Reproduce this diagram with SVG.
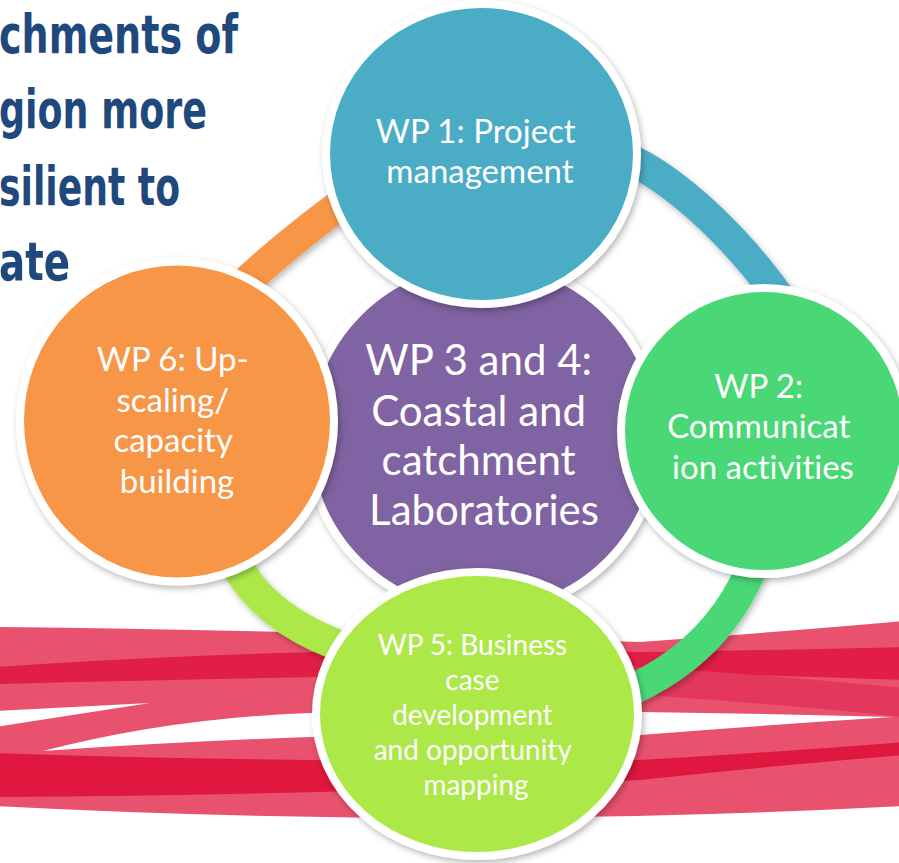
<svg xmlns="http://www.w3.org/2000/svg" width="899" height="863" viewBox="0 0 899 863">
  <defs>
    <filter id="shadow" x="-20%" y="-20%" width="140%" height="140%">
      <feDropShadow dx="2" dy="3" stdDeviation="3" flood-color="#000" flood-opacity="0.28"/>
    </filter>
    <style>
      .title { font-family: "DejaVu Sans Condensed", "DejaVu Sans", sans-serif; font-weight: bold; font-stretch: condensed; font-size: 54px; fill: #1F497D; }
      .lbl { font-family: Lato, "Open Sans", sans-serif; fill: #FFFFFF; text-anchor: middle; font-variant-ligatures: none; }
      .node { stroke: #FFFFFF; stroke-width: 8; filter: url(#shadow); }
      .arc { fill: none; stroke-width: 31; filter: url(#shadow); }
    </style>
  </defs>

  <rect width="899" height="863" fill="#FFFFFF"/>

  <!-- title fragment, top left -->
  <g id="title">
    <text class="title" x="-1" y="53" textLength="239" lengthAdjust="spacingAndGlyphs">chments of</text>
    <text class="title" x="-1" y="128" textLength="208" lengthAdjust="spacingAndGlyphs">gion more</text>
    <text class="title" x="-1" y="205" textLength="181" lengthAdjust="spacingAndGlyphs">silient to</text>
    <text class="title" x="-1" y="280" textLength="71" lengthAdjust="spacingAndGlyphs">ate</text>
  </g>

  <!-- red brush-stroke ribbons -->
  <g id="ribbons">
    <path d="M-5,627 Q330,631 640,642 Q780,632 905,621 L905,806 Q450,830 -5,806 Z" fill="#E8526F"/>
    <path d="M-5,667 Q330,644 640,652 Q780,650 905,647 L905,680 Q780,676 640,672 Q330,676 -5,684 Z" fill="#E11E46"/>
    <path d="M560,662 Q740,672 905,688 L905,717 Q740,700 560,690 Z" fill="#E3385B"/>
    <path d="M-5,753 Q330,764 640,760 Q780,752 905,742 L905,755 Q780,765 640,780 Q330,795 -5,797 Z" fill="#E0173F"/>
    <path d="M-5,711 L150,703 L-5,727 Z" fill="#FFFFFF"/>
    <path d="M43,751 Q170,718 310,713 Q480,707 640,712 Q780,714 893,717 Q780,724 640,735 Q480,743 310,737 Q170,742 43,751 Z" fill="#FFFFFF"/>
  </g>

  <!-- ring segments linking the outer work packages -->
  <g id="connectors">
    <path class="arc" stroke="#F79646" d="M222,305 Q283,244 372,182"/>
    <path class="arc" stroke="#4BACC6" d="M600,150 C655,158 740,235 796,322"/>
    <path class="arc" stroke="#4AD875" d="M766,522 Q735,662 588,706"/>
    <path class="arc" stroke="#ADE84A" d="M222,528 Q245,622 372,656"/>
  </g>

  <g id="wp34">
    <circle class="node" cx="483" cy="437" r="176" fill="#8064A2"/>
    <text class="lbl" font-size="42">
      <tspan x="484" y="375">WP 3 and 4:</tspan>
      <tspan x="484" y="426">Coastal and</tspan>
      <tspan x="484" y="475">catchment</tspan>
      <tspan x="484" y="525">Laboratories</tspan>
    </text>
  </g>

  <g id="wp1">
    <ellipse class="node" cx="481.5" cy="154" rx="155.5" ry="150" fill="#4BACC6"/>
    <text class="lbl" font-size="33">
      <tspan x="480" y="143">WP 1: Project</tspan>
      <tspan x="480" y="183">management</tspan>
    </text>
  </g>

  <g id="wp2">
    <circle class="node" cx="764" cy="431" r="143" fill="#4AD875"/>
    <text class="lbl" font-size="33">
      <tspan x="763" y="398">WP 2:</tspan>
      <tspan x="763" y="438">Communicat</tspan>
      <tspan x="763" y="479">ion activities</tspan>
    </text>
  </g>

  <g id="wp6">
    <ellipse class="node" cx="177" cy="421.5" rx="157" ry="160" fill="#F79646"/>
    <text class="lbl" font-size="33">
      <tspan x="177" y="371">WP 6: Up-</tspan>
      <tspan x="177" y="412">scaling/</tspan>
      <tspan x="177" y="452">capacity</tspan>
      <tspan x="177" y="493">building</tspan>
    </text>
  </g>

  <g id="wp5">
    <ellipse class="node" cx="477" cy="714" rx="161" ry="142" fill="#ADE84A"/>
    <text class="lbl" font-size="28">
      <tspan x="476" y="655">WP 5: Business</tspan>
      <tspan x="476" y="690">case</tspan>
      <tspan x="476" y="725">development</tspan>
      <tspan x="476" y="760">and opportunity</tspan>
      <tspan x="476" y="795">mapping</tspan>
    </text>
  </g>
</svg>
